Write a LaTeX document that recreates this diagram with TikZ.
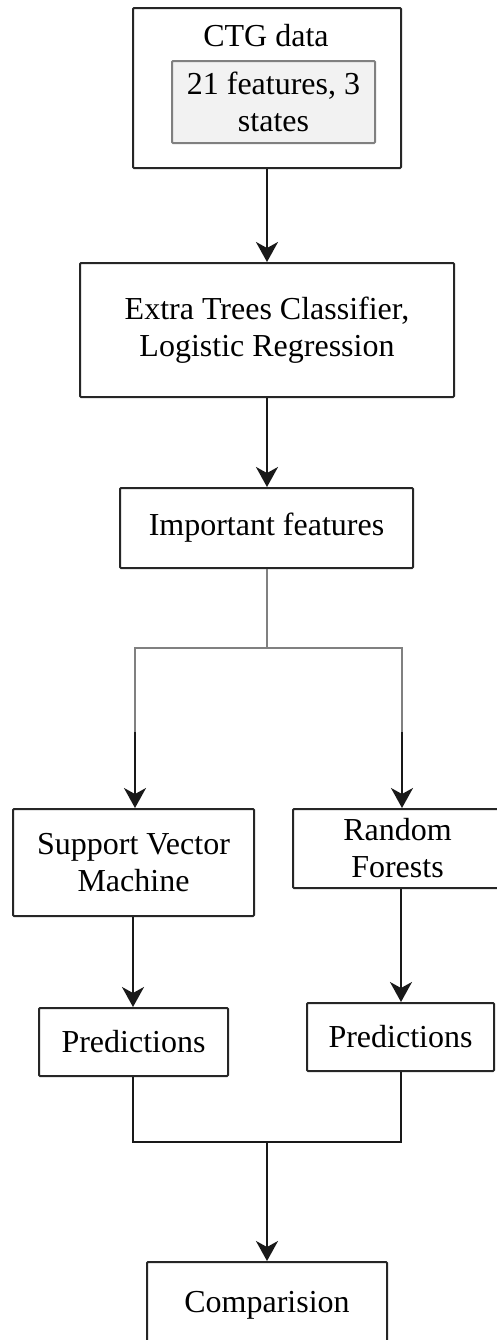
\documentclass[tikz,border=0pt]{standalone}
\usepackage{fontspec}
\setmainfont{Liberation Serif}
\usetikzlibrary{arrows.meta}
\tikzset{>={Stealth[length=10pt,width=11pt,inset=3pt]}}
\colorlet{boxcol}{black!85}
\colorlet{linkcol}{black!50}
\colorlet{subfill}{black!5}
\tikzset{
  box/.style={draw=boxcol,line width=1pt,rounded corners=0.5pt,fill=white,
              align=center,inner sep=0pt,font=\fontsize{16pt}{18.5pt}\selectfont},
  subbox/.style={box,draw=linkcol,fill=subfill},
  arr/.style={->,line width=1pt,black!90},
  grayline/.style={line width=1.3pt,linkcol}
}

\begin{document}
\begin{tikzpicture}[x=0.5pt,y=-0.5pt]
  \useasboundingbox (0,0) rectangle (497,1340);
  \coordinate (split)  at (267,648);
  \coordinate (splitl) at (135,648);
  \coordinate (splitr) at (402,648);
  \coordinate (midl)   at (135,732);
  \coordinate (midr)   at (402,732);
  \coordinate (joinl)  at (133,1142);
  \coordinate (joinr)  at (401,1142);
  \coordinate (join)   at (267,1142);
  
  % BOXES
  \node[box,minimum width=134pt,minimum height=80pt] (ctg) at (267,88) {};
  \node[font=\fontsize{16pt}{18.5pt}\selectfont,inner sep=0pt] (ctgtitle) at (266,36) {CTG data};
  \node[subbox,minimum width=101.5pt,minimum height=41pt] (feat) at (273.5,102)
    {21 features, 3\\states};
  \node[box,minimum width=187pt,minimum height=67pt] (trees) at (267,330)
    {Extra Trees Classifier,\\Logistic Regression};
  \node[box,minimum width=146.5pt,minimum height=40pt] (imp) at (266.5,528)
    {Important features};
  \node[box,minimum width=120.5pt,minimum height=53.5pt] (svm) at (133.5,862.5)
    {Support Vector\\Machine};
  \node[box,minimum width=104.5pt,minimum height=39.5pt] (rf) at (397.5,848.5)
    {Random\\Forests};
  \node[box,minimum width=94.5pt,minimum height=34pt] (predl) at (133.5,1042)
    {Predictions};
  \node[box,minimum width=93.5pt,minimum height=34pt] (predr) at (400.5,1037)
    {Predictions};
  \node[box,minimum width=120pt,minimum height=43pt] (comp) at (267,1305)
    {Comparision};
  
  % PATHS
  \draw[arr] (ctg.south -| split) -- (trees.north -| split);
  \draw[arr] (trees.south -| split) -- (imp.north -| split);
  \draw[grayline] (imp.south -| split) -- (split);
  \draw[grayline] (midl) -- (splitl) -- (splitr) -- (midr);
  \draw[arr] (midl) -- (midl |- svm.north);
  \draw[arr] (midr) -- (midr |- rf.north);
  \draw[arr] (svm.south -| joinl) -- (predl.north -| joinl);
  \draw[arr] (rf.south -| joinr) -- (predr.north -| joinr);
  \draw[line width=1pt,black!90] (predl.south -| joinl) -- (joinl) -- (joinr) -- (predr.south -| joinr);
  \draw[arr] (join) -- (comp.north -| join);
  
\end{tikzpicture}
\end{document}
